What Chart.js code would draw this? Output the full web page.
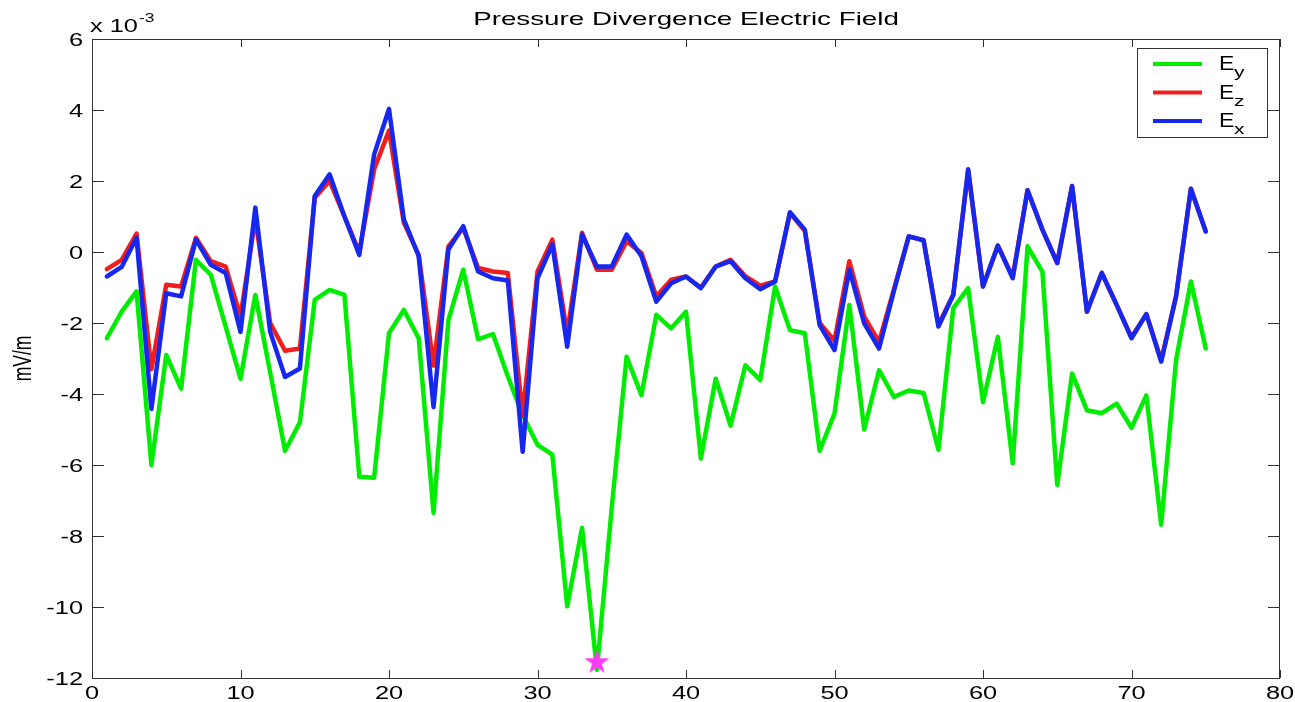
<!DOCTYPE html>
<html>
<head>
<meta charset="utf-8">
<script src="https://cdn.jsdelivr.net/npm/chart.js@4"></script>
<style>
  body { margin: 0; background: #fff; }
  #wrap { width: 1295px; height: 702px; }
</style>
</head>
<body>
<div id="wrap"><canvas id="c"></canvas></div>
<script>
// values in units of 1e-3 mV/m, sample index 1..75
const ey = [-2.43, -1.68, -1.11, -6.0, -2.9, -3.85, -0.22, -0.64, -2.1, -3.57,
  -1.21, -3.4, -5.6, -4.8, -1.35, -1.07, -1.21, -6.33, -6.36, -2.29,
  -1.63, -2.43, -7.35, -1.92, -0.5, -2.46, -2.31, -3.5, -4.6, -5.43,
  -5.71, -9.98, -7.77, -11.77, -7.2, -2.95, -4.03, -1.77, -2.15, -1.68,
  -5.82, -3.57, -4.89, -3.19, -3.61, -0.97, -2.2, -2.29, -5.6, -4.55,
  -1.49, -5.0, -3.33, -4.08, -3.9, -3.97, -5.57, -1.58, -1.02, -4.23,
  -2.39, -5.95, 0.16, -0.55, -6.56, -3.42, -4.46, -4.54, -4.27, -4.95,
  -4.04, -7.68, -3.05, -0.83, -2.72];
const ez = [-0.48, -0.22, 0.52, -3.3, -0.92, -0.97, 0.40, -0.26, -0.41, -1.82,
  0.95, -2.0, -2.78, -2.72, 1.53, 2.0, 1.0, 0.0, 2.33, 3.42,
  0.82, -0.08, -3.2, 0.16, 0.68, -0.45, -0.55, -0.59, -4.6, -0.55,
  0.35, -2.3, 0.54, -0.5, -0.5, 0.3, -0.03, -1.25, -0.78, -0.69,
  -1.0, -0.41, -0.22, -0.68, -0.95, -0.83, 1.1, 0.6, -2.0, -2.5,
  -0.26, -1.82, -2.53, -1.05, 0.44, 0.33, -2.05, -1.2, 2.3, -0.97,
  0.18, -0.7, 1.74, 0.63, -0.31, 1.86, -1.68, -0.59, -1.49, -2.4,
  -1.75, -3.05, -1.25, 1.78, 0.58];
const ex = [-0.69, -0.42, 0.40, -4.42, -1.16, -1.25, 0.35, -0.36, -0.59, -2.25,
  1.25, -2.25, -3.52, -3.28, 1.58, 2.19, 1.0, -0.08, 2.75, 4.03,
  0.92, -0.12, -4.37, 0.07, 0.73, -0.55, -0.74, -0.8, -5.63, -0.74,
  0.21, -2.67, 0.49, -0.41, -0.41, 0.49, -0.12, -1.40, -0.88, -0.69,
  -1.02, -0.41, -0.26, -0.74, -1.05, -0.83, 1.12, 0.63, -2.06, -2.76,
  -0.5, -2.01, -2.72, -1.1, 0.44, 0.33, -2.1, -1.21, 2.33, -0.97,
  0.18, -0.74, 1.74, 0.63, -0.31, 1.86, -1.68, -0.59, -1.49, -2.43,
  -1.75, -3.09, -1.25, 1.78, 0.58];
const starX = [34];
const starY = [-11.53];
const xTicks = [0, 10, 20, 30, 40, 50, 60, 70, 80];
const yTicks = [-12, -10, -8, -6, -4, -2, 0, 2, 4, 6];
const legendNames = [['E', 'y'], ['E', 'z'], ['E', 'x']];

const GREEN = 'rgb(0,236,0)', RED = 'rgb(238,30,30)', BLUE = 'rgb(22,40,240)';
const SX = 1.45; // horizontal stretch of the original picture's text

function pts(arr) { return arr.map((v, i) => ({ x: i + 1, y: v })); }

// filled 5 point star for the marker
const starImg = document.createElement('canvas');
starImg.width = 26; starImg.height = 26;
(function () {
  const g = starImg.getContext('2d');
  g.fillStyle = 'rgb(255,60,245)';
  g.beginPath();
  for (let k = 0; k < 10; k++) {
    const r = k % 2 ? 5.2 : 13;
    const a = -Math.PI / 2 + k * Math.PI / 5;
    const px = 13 + r * Math.cos(a), py = 14 + r * Math.sin(a);
    k ? g.lineTo(px, py) : g.moveTo(px, py);
  }
  g.closePath();
  g.fill();
})();

function txt(ctx, s, x, y, align, size, sx) {
  ctx.save();
  ctx.font = size + 'px "Liberation Sans", Arial, sans-serif';
  ctx.textAlign = align;
  ctx.translate(x, y);
  ctx.scale(sx, 1);
  ctx.fillText(s, 0, 0);
  ctx.restore();
}

const decor = {
  id: 'decor',
  afterDraw(chart) {
    const ctx = chart.ctx, a = chart.chartArea;
    const xs = chart.scales.x, ys = chart.scales.y;
    ctx.save();
    ctx.strokeStyle = '#333';
    ctx.lineWidth = 1;
    ctx.strokeRect(a.left + 0.5, a.top + 0.5, a.right - a.left - 1, a.bottom - a.top);
    ctx.beginPath();
    xTicks.forEach(v => {
      const p = Math.round(xs.getPixelForValue(v)) + 0.5;
      ctx.moveTo(p, a.bottom); ctx.lineTo(p, a.bottom - 8);
      ctx.moveTo(p, a.top); ctx.lineTo(p, a.top + 8);
    });
    yTicks.forEach(v => {
      const p = Math.round(ys.getPixelForValue(v)) + 0.5;
      ctx.moveTo(a.left, p); ctx.lineTo(a.left + 12, p);
      ctx.moveTo(a.right, p); ctx.lineTo(a.right - 12, p);
    });
    ctx.stroke();

    ctx.fillStyle = '#000';
    ctx.textBaseline = 'alphabetic';
    xTicks.forEach(v => txt(ctx, String(v), xs.getPixelForValue(v), 699, 'center', 17.5, SX));
    yTicks.forEach(v => txt(ctx, String(v), 83, ys.getPixelForValue(v) + 6.5, 'right', 17.5, SX));

    txt(ctx, 'Pressure Divergence Electric Field', (a.left + a.right) / 2, 25, 'center', 18.5, 1.5);
    txt(ctx, 'x 10', 90, 32, 'left', 17.5, SX);
    txt(ctx, '-3', 139, 22, 'left', 12, SX);

    // y axis label, rotated
    ctx.save();
    ctx.translate(24, (a.top + a.bottom) / 2);
    ctx.rotate(-Math.PI / 2);
    ctx.scale(1, SX);
    ctx.font = '17.5px "Liberation Sans", Arial, sans-serif';
    ctx.textAlign = 'center';
    ctx.textBaseline = 'middle';
    ctx.fillText('mV/m', 0, 0);
    ctx.restore();

    // legend
    const lx = 1137, ly = 48, lw = 130, lh = 89;
    ctx.fillStyle = '#fff';
    ctx.fillRect(lx, ly, lw, lh);
    ctx.strokeStyle = '#333';
    ctx.strokeRect(lx + 0.5, ly + 0.5, lw, lh);
    const cols = [GREEN, RED, BLUE];
    legendNames.forEach((n, i) => {
      const yl = 64 + i * 28.5;
      ctx.strokeStyle = cols[i];
      ctx.lineWidth = 4;
      ctx.beginPath();
      ctx.moveTo(1153, yl); ctx.lineTo(1202, yl);
      ctx.stroke();
      ctx.fillStyle = '#000';
      txt(ctx, n[0], 1219, yl + 6, 'left', 20, 1.15);
      txt(ctx, n[1], 1234, yl + 13, 'left', 15, 1.4);
    });
    ctx.restore();
  }
};

new Chart(document.getElementById('c'), {
  type: 'line',
  data: {
    datasets: [
      { label: 'Ey', data: pts(ey), borderColor: GREEN, order: 3 },
      { label: 'Ez', data: pts(ez), borderColor: RED, order: 2 },
      { label: 'Ex', data: pts(ex), borderColor: BLUE, order: 1 },
      {
        label: 'min', type: 'scatter', order: 0, clip: false,
        data: starX.map((v, i) => ({ x: v, y: starY[i] })),
        pointStyle: starImg, pointRadius: 13
      }
    ]
  },
  options: {
    responsive: true,
    maintainAspectRatio: false,
    devicePixelRatio: 1,
    animation: false,
    layout: { padding: { left: 92, top: 39, right: 15, bottom: 24 } },
    elements: {
      line: { borderWidth: 4.5, tension: 0, fill: false, borderJoinStyle: 'round', borderCapStyle: 'round' },
      point: { radius: 0 }
    },
    scales: {
      x: { type: 'linear', min: 0, max: 80, display: false },
      y: { type: 'linear', min: -12, max: 6, display: false }
    },
    plugins: { legend: { display: false }, tooltip: { enabled: false } }
  },
  plugins: [decor]
});
</script>
</body>
</html>
